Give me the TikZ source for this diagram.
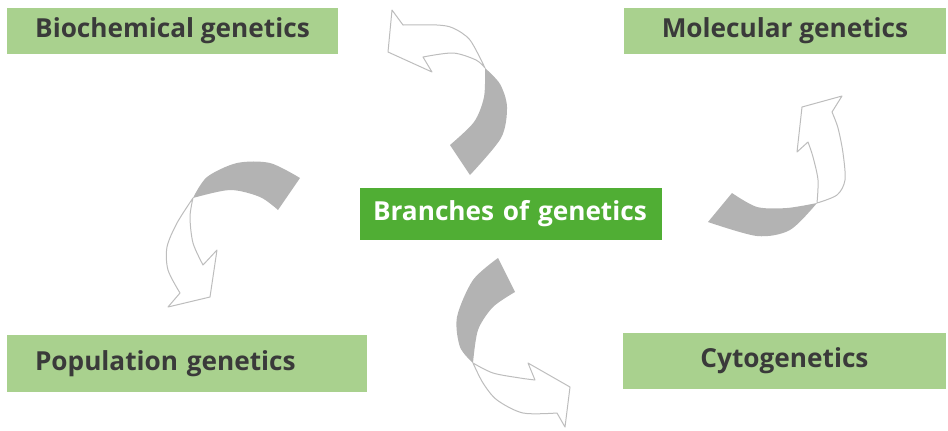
\documentclass[tikz,border=0pt]{standalone}
\usepackage{fontspec}
\setmainfont{Open Sans}
\usepackage{xcolor}
\usepackage{tikz}
\usetikzlibrary{positioning}
\definecolor{leafgreen}{HTML}{A9D18E}
\definecolor{stemgreen}{HTML}{50AE34}
\definecolor{ribbongray}{HTML}{B3B3B3}
\definecolor{edgegray}{HTML}{BDBDBD}
\definecolor{inkgray}{HTML}{3A3A3A}
\tikzset{branch/.style={rectangle,fill=leafgreen,text=inkgray,minimum height=23pt,inner xsep=0pt},hub/.style={rectangle,fill=stemgreen,text=white,minimum height=26pt,text width=138pt,inner xsep=6.5pt,align=left},ribbonback/.style={fill=ribbongray,draw=none},ribbonfront/.style={fill=white,draw=edgegray,line width=0.5pt,line join=round}}
\tikzstyle{labelfont}=[font=\bfseries\fontsize{13.1}{15.5}\selectfont]

\begin{document}
\begin{tikzpicture} [x=0.5pt,y=-0.5pt,labelfont]

\useasboundingbox (0,0) rectangle (948,430);

% boxes
\node (biochem) at (172.5,31)[branch,minimum width=165.5pt]{Biochemical genetics};
\node (molecular) at (785,31)[branch,minimum width=161pt]{Molecular genetics};
\node (population) at (187,363.5)[branch,minimum height=28.5pt,text width=152pt,inner xsep=14pt,align=left]{Population genetics};
\node (cyto) at (784.5,361)[branch,minimum width=161.5pt,minimum height=28pt]{Cytogenetics};
\node (hub) at (511,214)[hub]{Branches of genetics};

% top ribbon
\fill[ribbonback] plot[smooth] coordinates {(485,68) (500,84) (507,107) (501,138) (470,175)} -- (450,145)
  -- plot[smooth] coordinates {(450,145) (474,122) (484,97) (485,68)} -- cycle;
\filldraw[ribbonfront] plot[smooth] coordinates {(485,68) (470,40) (453,28) (437,25) (403,25)} -- (392,10) -- (388,52) -- (432,72) -- (423,57)
  -- plot[smooth] coordinates {(423,57) (453,53) (476,60) (485,68)} -- cycle;

% right ribbon
\fill[ribbonback] plot[smooth] coordinates {(732,193) (757,207) (787,208) (817,203)}
  -- plot[smooth] coordinates {(817,203) (790,230) (757,236) (708,222)} -- cycle;
\filldraw[ribbonfront] plot[smooth] coordinates {(817,203) (818,180) (813,157) (808,142)} -- (797,152) -- (802,107) -- (842,96) -- (832,112)
  -- plot[smooth] coordinates {(832,112) (838,128) (843,153) (845,180) (837,195) (817,203)} -- cycle;

% left ribbon
\fill[ribbonback] plot[smooth] coordinates {(193,198) (207,177) (237,163) (270,163) (300,178)} -- (278,210)
  -- plot[smooth] coordinates {(278,210) (260,197) (230,190) (193,198)} -- cycle;
\filldraw[ribbonfront] plot[smooth] coordinates {(193,198) (177,223) (167,247) (168,270) (180,293)} -- (168,307) -- (210,297) -- (217,250) -- (203,265)
  -- plot[smooth] coordinates {(203,265) (193,243) (190,217) (193,198)} -- cycle;

% bottom ribbon
\fill[ribbonback] plot[smooth] coordinates {(498,258) (473,280) (457,317) (460,347) (473,363)}
  -- plot[smooth] coordinates {(473,363) (478,330) (493,307) (515,292)} -- cycle;
\filldraw[ribbonfront] plot[smooth] coordinates {(473,363) (493,373) (520,378) (535,380)} -- (528,363) -- (570,387) -- (565,427) -- (557,413)
  -- plot[smooth] coordinates {(557,413) (523,413) (497,400) (483,383) (473,363)} -- cycle;

\end{tikzpicture}
\end{document}
